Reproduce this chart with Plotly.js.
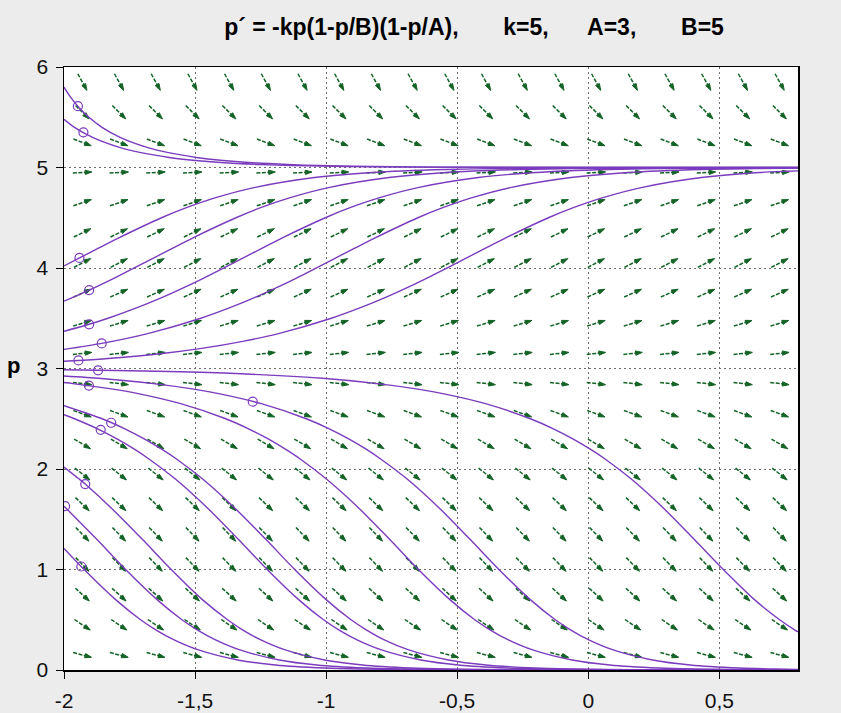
<!DOCTYPE html>
<html>
<head>
<meta charset="utf-8">
<script src="https://cdn.plot.ly/plotly-3.0.1.min.js"></script>
<style>html,body{margin:0;padding:0;background:#ececec;}#chart{width:841px;height:713px;}</style>
</head>
<body>
<div id="chart"></div>
<script>
// ---------- data ----------
const titleText = "p´ = -kp(1-p/B)(1-p/A),\u00a0\u00a0\u00a0\u00a0\u00a0\u00a0\u00a0k=5,\u00a0\u00a0\u00a0\u00a0\u00a0\u00a0A=3,\u00a0\u00a0\u00a0\u00a0\u00a0\u00a0\u00a0B=5";
const yLabel = "p";
const xTickVals = [-2, -1.5, -1, -0.5, 0, 0.5];
const xTickText = ["-2", "-1,5", "-1", "-0,5", "0", "0,5"];
const yTickVals = [0, 1, 2, 3, 4, 5, 6];
const yTickText = ["0", "1", "2", "3", "4", "5", "6"];

// direction field grid (column x, row p) and slope of each row
const arrowCols = [-1.93, -1.79, -1.65, -1.51, -1.37, -1.23, -1.09, -0.95, -0.81, -0.67, -0.53, -0.39, -0.25, -0.11, 0.03, 0.17, 0.31, 0.45, 0.59, 0.73];
const arrowRows = [0.15, 0.45, 0.75, 1.05, 1.35, 1.65, 1.95, 2.25, 2.55, 2.85, 3.15, 3.45, 3.75, 4.05, 4.35, 4.65, 4.95, 5.25, 5.55, 5.85];
const rowSlopes = [-0.69, -1.74, -2.39, -2.70, -2.71, -2.49, -2.08, -1.55, -0.94, -0.31, 0.29, 0.80, 1.17, 1.35, 1.27, 0.90, 0.16, -0.98, -2.59, -4.72];

// solution curves
const curveAx = [-2, -1.975, -1.944, -1.905, -1.855, -1.786, -1.683, -1.606, -1.494, -1.393, -1.296, -1.147, -1.028, -0.822, -0.5, 0.8];
const curveAp = [5.8, 5.7, 5.6, 5.5, 5.4, 5.3, 5.2, 5.15, 5.1, 5.07, 5.05, 5.03, 5.02, 5.01, 5.003, 5.0];
const curveBx = [-2, -1.96, -1.891, -1.788, -1.711, -1.599, -1.498, -1.402, -1.252, -1.133, -0.927, -0.5, 0.8];
const curveBp = [5.48, 5.4, 5.3, 5.2, 5.15, 5.1, 5.07, 5.05, 5.03, 5.02, 5.01, 5.002, 5.0];
const curveCx = [-2, -1.941, -1.867, -1.791, -1.628, -1.533, -1.421, -1.275, -1.044, -0.825, -0.544, -0.334, 0, 0.8];
const curveCp = [4.02, 4.1, 4.2, 4.3, 4.5, 4.6, 4.7, 4.8, 4.9, 4.95, 4.98, 4.99, 4.997, 5.0];
const curveDx = [-2, -1.973, -1.904, -1.808, -1.657, -1.583, -1.508, -1.344, -1.250, -1.137, -0.991, -0.760, -0.541, -0.260, -0.050, 0.8];
const curveDp = [3.67, 3.7, 3.78, 3.9, 4.1, 4.2, 4.3, 4.5, 4.6, 4.7, 4.8, 4.9, 4.95, 4.98, 4.99, 4.999];
const curveEx = [-2, -1.904, -1.832, -1.726, -1.632, -1.547, -1.467, -1.316, -1.242, -1.167, -1.003, -0.909, -0.796, -0.650, -0.419, -0.201, 0.081, 0.291, 0.8];
const curveEp = [3.37, 3.44, 3.5, 3.6, 3.7, 3.8, 3.9, 4.1, 4.2, 4.3, 4.5, 4.6, 4.7, 4.8, 4.9, 4.95, 4.98, 4.99, 4.998];
const curveFx = [-2, -1.856, -1.677, -1.478, -1.372, -1.278, -1.193, -1.113, -0.963, -0.889, -0.813, -0.650, -0.555, -0.443, -0.297, -0.066, 0.153, 0.434, 0.645, 0.8];
const curveFp = [3.19, 3.25, 3.35, 3.5, 3.6, 3.7, 3.8, 3.9, 4.1, 4.2, 4.3, 4.5, 4.6, 4.7, 4.8, 4.9, 4.95, 4.98, 4.99, 4.994];
const curveGx = [-2, -1.945, -1.832, -1.624, -1.475, -1.318, -1.178, -0.980, -0.874, -0.780, -0.695, -0.615, -0.464, -0.390, -0.315, -0.152, -0.057, 0.056, 0.202, 0.432, 0.651, 0.8];
const curveGp = [3.072, 3.08, 3.1, 3.15, 3.2, 3.27, 3.35, 3.5, 3.6, 3.7, 3.8, 3.9, 4.1, 4.2, 4.3, 4.5, 4.6, 4.7, 4.8, 4.9, 4.95, 4.966];
const curveHx = [-2, -1.801, -1.599, -1.346, -1.003, -0.804, -0.663, -0.555, -0.392, -0.221, -0.133, -0.059, 0.006, 0.064, 0.164, 0.291, 0.404, 0.515, 0.634, 0.730, 0.787, 0.8];
const curveHp = [2.987, 2.98, 2.97, 2.95, 2.9, 2.85, 2.8, 2.75, 2.65, 2.5, 2.4, 2.3, 2.2, 2.1, 1.9, 1.6, 1.3, 1.0, 0.7, 0.5, 0.4, 0.38];
const curveIx = [-2, -1.858, -1.659, -1.518, -1.410, -1.247, -1.076, -0.988, -0.914, -0.849, -0.792, -0.691, -0.564, -0.451, -0.341, -0.221, -0.126, -0.068, 0.002, 0.095, 0.245, 0.389, 0.576, 0.715, 0.8];
const curveIp = [2.925, 2.9, 2.85, 2.8, 2.75, 2.65, 2.5, 2.4, 2.3, 2.2, 2.1, 1.9, 1.6, 1.3, 1.0, 0.7, 0.5, 0.4, 0.3, 0.2, 0.1, 0.05, 0.02, 0.01, 0.0066];
const curveJx = [-2, -1.966, -1.826, -1.717, -1.555, -1.383, -1.296, -1.221, -1.157, -1.099, -0.999, -0.871, -0.758, -0.648, -0.528, -0.433, -0.375, -0.305, -0.212, -0.062, 0.082, 0.268, 0.408, 0.547, 0.730, 0.8];
const curveJp = [2.86, 2.85, 2.8, 2.75, 2.65, 2.5, 2.4, 2.3, 2.2, 2.1, 1.9, 1.6, 1.3, 1.0, 0.7, 0.5, 0.4, 0.3, 0.2, 0.1, 0.05, 0.02, 0.01, 0.005, 0.002, 0.0014];
const curveKx = [-2, -1.855, -1.768, -1.694, -1.629, -1.571, -1.471, -1.344, -1.230, -1.120, -1.000, -0.905, -0.847, -0.778, -0.685, -0.534, -0.390, -0.204, -0.064, 0.075, 0.258, 0.397, 0.536, 0.8];
const curveKp = [2.63, 2.5, 2.4, 2.3, 2.2, 2.1, 1.9, 1.6, 1.3, 1.0, 0.7, 0.5, 0.4, 0.3, 0.2, 0.1, 0.05, 0.02, 0.01, 0.005, 0.002, 0.001, 0.0005, 0.0001];
const curveLx = [-2, -1.960, -1.872, -1.798, -1.733, -1.676, -1.575, -1.448, -1.335, -1.225, -1.105, -1.010, -0.952, -0.882, -0.789, -0.639, -0.495, -0.309, -0.169, -0.030, 0.154, 0.293, 0.431, 0.8];
const curveLp = [2.54, 2.5, 2.4, 2.3, 2.2, 2.1, 1.9, 1.6, 1.3, 1.0, 0.7, 0.5, 0.4, 0.3, 0.2, 0.1, 0.05, 0.02, 0.01, 0.005, 0.002, 0.001, 0.0005, 0.0001];
const curveMx = [-2, -1.942, -1.919, -1.815, -1.701, -1.591, -1.472, -1.376, -1.319, -1.249, -1.156, -1.006, -0.861, -0.675, -0.535, -0.396, -0.213, -0.074, 0.065, 0.8];
const curveMp = [2.02, 1.9, 1.85, 1.6, 1.3, 1.0, 0.7, 0.5, 0.4, 0.3, 0.2, 0.1, 0.05, 0.02, 0.01, 0.005, 0.002, 0.001, 0.0005, 0.00002];
const curveNx = [-2, -1.875, -1.765, -1.645, -1.550, -1.492, -1.422, -1.329, -1.179, -1.035, -0.849, -0.709, -0.570, -0.386, -0.247, -0.109, 0.8];
const curveNp = [1.63, 1.3, 1.0, 0.7, 0.5, 0.4, 0.3, 0.2, 0.1, 0.05, 0.02, 0.01, 0.005, 0.002, 0.001, 0.0005, 0.00001];
const curveOx = [-2, -1.923, -1.803, -1.708, -1.650, -1.580, -1.487, -1.337, -1.193, -1.007, -0.867, -0.728, -0.544, -0.406, -0.267, 0.8];
const curveOp = [1.21, 1.0, 0.7, 0.5, 0.4, 0.3, 0.2, 0.1, 0.05, 0.02, 0.01, 0.005, 0.002, 0.001, 0.0005, 0.00001];

// initial points (small circles)
const startX = [-1.947, -1.926, -1.941, -1.904, -1.904, -1.856, -1.945, -1.870, -1.280, -1.905, -1.820, -1.860, -1.919, -1.996, -1.934];
const startP = [5.61, 5.35, 4.1, 3.78, 3.44, 3.25, 3.08, 2.982, 2.67, 2.83, 2.46, 2.39, 1.85, 1.63, 1.03];

// ---------- drawing ----------
const W = 841, H = 713;
const M = {l: 64, r: 43, t: 67, b: 43};
const xRange = [-2, 0.8], yRange = [0, 6];
const pxX = (W - M.l - M.r) / (xRange[1] - xRange[0]);
const pxY = (H - M.t - M.b) / (yRange[1] - yRange[0]);
const halfLen = 9.5; // half arrow length in pixels

const ax = [], ay = [], asz = [];
arrowRows.forEach((p, r) => {
  const m = rowSlopes[r];
  const vx = pxX, vy = pxY * m;
  const n = Math.hypot(vx, vy);
  const dx = halfLen * (vx / n) / pxX;
  const dp = halfLen * (vy / n) / pxY;
  arrowCols.forEach(x => {
    ax.push(x - dx, x + dx, null);
    ay.push(p - dp, p + dp, null);
    asz.push(0, 7, 0);
  });
});

const purple = '#7b3cbd';
const green = '#136326';
const traces = [{
  type: 'scatter', mode: 'lines+markers', x: ax, y: ay,
  line: {color: green, width: 1.5, dash: '4px,1.5px'},
  marker: {symbol: 'arrow', size: asz, angleref: 'previous', color: green, opacity: 1, line: {width: 1, color: green}},
  hoverinfo: 'skip', showlegend: false, connectgaps: false
}];

const curves = [
  [curveAx, curveAp], [curveBx, curveBp], [curveCx, curveCp], [curveDx, curveDp],
  [curveEx, curveEp], [curveFx, curveFp], [curveGx, curveGp], [curveHx, curveHp],
  [curveIx, curveIp], [curveJx, curveJp], [curveKx, curveKp], [curveLx, curveLp],
  [curveMx, curveMp], [curveNx, curveNp], [curveOx, curveOp]
];
curves.forEach(c => traces.push({
  type: 'scatter', mode: 'lines', x: c[0], y: c[1],
  line: {color: purple, width: 1.4, shape: 'spline', smoothing: 0.8},
  hoverinfo: 'skip', showlegend: false
}));
traces.push({
  type: 'scatter', mode: 'markers', x: startX, y: startP,
  marker: {symbol: 'circle-open', size: 9, color: purple, line: {width: 1.2, color: purple}},
  hoverinfo: 'skip', showlegend: false
});

const axisCommon = {
  showline: true, linecolor: '#000', linewidth: 1.5, mirror: true,
  ticks: 'outside', ticklen: 7, tickcolor: '#000', tickwidth: 1,
  showgrid: true, gridcolor: '#6e6e6e', gridwidth: 1, griddash: '2px,3px',
  zeroline: false, fixedrange: true,
  tickfont: {family: 'Liberation Sans, Arial, sans-serif', size: 21, color: '#111'}
};

const layout = {
  width: W, height: H, margin: M,
  paper_bgcolor: '#ececec', plot_bgcolor: '#ffffff',
  title: {
    text: '<b>' + titleText + '</b>',
    font: {family: 'Liberation Sans, Arial, sans-serif', size: 23, color: '#000'},
    x: 0.5586, xref: 'paper', xanchor: 'center',
    y: 1 - 27 / H, yref: 'container', yanchor: 'middle'
  },
  xaxis: Object.assign({}, axisCommon, {range: xRange, tickvals: xTickVals, ticktext: xTickText, ticklabelstandoff: 4}),
  yaxis: Object.assign({}, axisCommon, {range: yRange, tickvals: yTickVals, ticktext: yTickText, ticklabelstandoff: 3}),
  annotations: [{
    text: '<b>' + yLabel + '</b>', xref: 'paper', yref: 'y',
    x: (14 - M.l) / (W - M.l - M.r), y: 3.03, xanchor: 'center', yanchor: 'middle',
    showarrow: false, font: {family: 'Liberation Sans, Arial, sans-serif', size: 22, color: '#000'}
  }]
};

Plotly.newPlot('chart', traces, layout, {displayModeBar: false, staticPlot: true});
</script>
</body>
</html>
